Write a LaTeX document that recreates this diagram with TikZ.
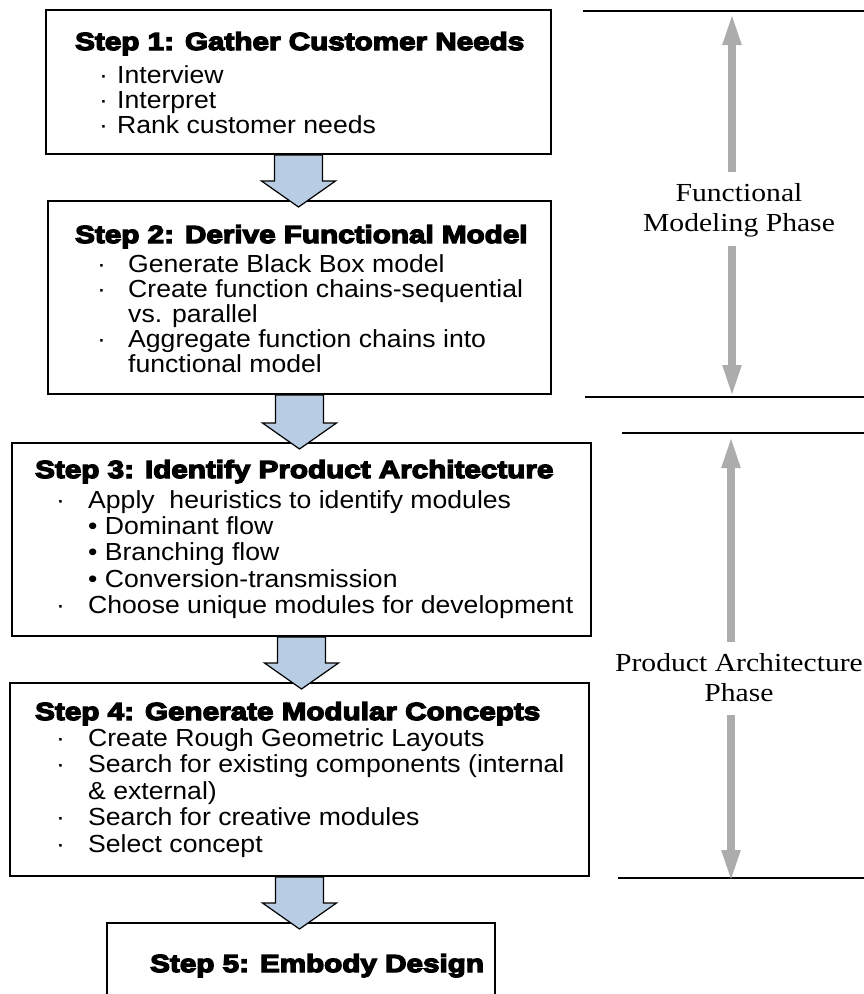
\documentclass[tikz,border=0pt]{standalone}
\usepackage{fontspec}
\usetikzlibrary{arrows.meta,calc}
\newfontfamily\stepfont{Liberation Sans Bold}[FakeStretch=1.2,FakeBold=5.5]
\newfontfamily\itemfont{Liberation Sans}[FakeStretch=1.077]
\newfontfamily\phasefont{Liberation Serif}[FakeStretch=1.14]
\definecolor{arrowblue}{RGB}{184,204,228}
\definecolor{phasegray}{RGB}{172,172,172}
\newcommand\firstline{\rule{0pt}{20pt}}
\newcommand\itm[1]{\makebox[#1][l]{·}}
\newcommand\ind[1]{\hspace*{#1}}
\newcommand\blockarrow[2]{%
  \coordinate (H) at ($(#1.south |- #2.north)+(0,-19)$);
  \coordinate (T) at ($(#1.south |- #2.north)+(0,7)$);
  \filldraw[flowarrow] ($(#1.south)+(-24,0)$) -- ($(H)+(-24,0)$) -- ($(H)+(-37,0)$) -- (T)
    -- ($(H)+(37,0)$) -- ($(H)+(24,0)$) -- ($(#1.south)+(24,0)$) -- cycle;}
\begin{document}
\begin{tikzpicture}[x=1pt, y=-1pt,
        stepbox/.style={draw, line width=2pt, inner sep=0pt},
        steptitle/.style={inner sep=0pt, anchor=base west, font=\stepfont\fontsize{24.7}{25}\selectfont},
        steplist/.style={inner sep=0pt, anchor=north west, align=left, font=\itemfont\fontsize{24.7}{#1}\selectfont},
        steplist/.default=25,
        flowarrow/.style={fill=arrowblue, draw=black, line width=1.2pt, line join=miter},
        phaseline/.style={line width=1.2pt},
        phasearrow/.style={draw=phasegray, line width=7.5pt, -{Triangle[length=32pt,width=17pt]}},
        phaselabel/.style={align=center, inner xsep=0pt, inner ysep=9pt, anchor=north,
            font=\phasefont\fontsize{26}{30}\selectfont}
    ]
        \clip (0,0) rectangle (864,994);

        % Các hộp bước
        \node[stepbox, minimum width=505pt, minimum height=144pt] (box1) at (298.5,82) {};
        \node[stepbox, minimum width=503pt, minimum height=193pt] (box2) at (299.5,297.5) {};
        \node[stepbox, minimum width=579pt, minimum height=193pt] (box3) at (301.5,539.5) {};
        \node[stepbox, minimum width=579pt, minimum height=193pt] (box4) at (299.5,779.5) {};
        \node[stepbox, minimum width=388pt, minimum height=110pt] (box5) at (301,978) {};

        % Tiêu đề và nội dung
        \node[steptitle] (title1) at (75,50) {Step 1: Gather Customer Needs};
        \node[steplist] (list1) at (99,63) {\firstline\itm{18pt}Interview\\
            \itm{18pt}Interpret\\
            \itm{18pt}Rank customer needs};

        \node[steptitle] (title2) at (75,243) {Step 2: Derive Functional Model};
        \node[steplist] (list2) at (97,252) {\firstline\itm{31pt}Generate Black Box model\\
            \itm{31pt}Create function chains-sequential\\
            \ind{31pt}vs. parallel\\
            \itm{31pt}Aggregate function chains into\\
            \ind{31pt}functional model};

        \node[steptitle] (title3) at (35,478) {Step 3: Identify Product Architecture};
        \node[steplist=26.3] (list3) at (56,488) {\firstline\itm{32pt}Apply\ \ heuristics to identify modules\\
            \ind{32pt}•\ Dominant flow\\
            \ind{32pt}•\ Branching flow\\
            \ind{32pt}•\ Conversion-transmission\\
            \itm{32pt}Choose unique modules for development};

        \node[steptitle] (title4) at (35,720) {Step 4: Generate Modular Concepts};
        \node[steplist=26.5] (list4) at (56,726) {\firstline\itm{32pt}Create Rough Geometric Layouts\\
            \itm{32pt}Search for existing components (internal\\
            \ind{32pt}\& external)\\
            \itm{32pt}Search for creative modules\\
            \itm{32pt}Select concept};

        \node[steptitle] (title5) at (150,972) {Step 5: Embody Design};

        % Mũi tên giữa các bước
        \blockarrow{box1}{box2}
        \blockarrow{box2}{box3}
        \blockarrow{box3}{box4}
        \blockarrow{box4}{box5}

        % Các giai đoạn bên phải
        \draw[phaseline] (583,11) -- (864,11);
        \draw[phaseline] (585,397) -- (864,397);
        \draw[phaseline] (622,433) -- (864,433);
        \draw[phaseline] (618,878) -- (864,878);

        \node[phaselabel] (fm) at (739,172) {\firstline Functional\\Modeling Phase};
        \node[phaselabel] (pa) at (739,642) {\firstline Product Architecture\\Phase\rule[-5pt]{0pt}{5pt}};

        \coordinate (ftop) at (732,13);
        \coordinate (fbot) at (732,397);
        \coordinate (ptop) at (731,436);
        \coordinate (pbot) at (731,882);

        \draw[phasearrow] (fm.north -| ftop) -- (ftop);
        \draw[phasearrow] (fm.south -| fbot) -- (fbot);
        \draw[phasearrow] (pa.north -| ptop) -- (ptop);
        \draw[phasearrow] (pa.south -| pbot) -- (pbot);
    \end{tikzpicture}
\end{document}
